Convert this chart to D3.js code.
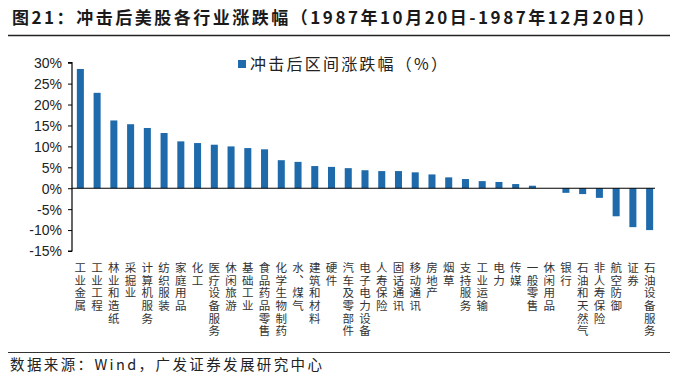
<!DOCTYPE html>
<html><head><meta charset="utf-8">
<script src="https://cdn.jsdelivr.net/npm/d3@7/dist/d3.min.js"></script>
<style>html,body{margin:0;padding:0;background:#fff;}svg{display:block;}
.vlab{writing-mode:vertical-rl;text-orientation:upright;}</style>
</head><body>
<svg id="c" width="700" height="382"></svg>
<script>
const categories = ["工业金属","工业工程","林业和造纸","采掘业","计算机服务","纺织服装","家庭用品","化工","医疗设备服务","休闲旅游","基础工业","食品药品零售","化学生物制药","水、煤气","建筑和材料","硬件","汽车及零部件","电子电力设备","人寿保险","固话通讯","移动通讯","房地产","烟草","支持服务","工业运输","电力","传媒","一般零售","休闲用品","银行","石油和天然气","非人寿保险","航空防御","证券","石油设备服务"];
const values = [28.5,22.8,16.2,15.3,14.4,13.2,11.2,10.8,10.4,10.0,9.6,9.3,6.7,6.3,5.3,5.1,4.8,4.3,4.1,4.1,3.8,3.3,2.6,2.2,1.7,1.5,1.0,0.6,0.0,-1.1,-1.4,-2.3,-6.7,-9.3,-10.0];
const yTicks = [30,25,20,15,10,5,0,-5,-10,-15];
const seriesName = "冲击后区间涨跌幅（%）";
const titleText = "图21：冲击后美股各行业涨跌幅（1987年10月20日-1987年12月20日）";
const sourceText = "数据来源：Wind，广发证券发展研究中心";

const svg = d3.select("#c");
const cjk = "'Noto Sans CJK SC','Noto Sans',sans-serif";
const barColor = "#1f6aab";

// title
svg.append("text").attr("x",12).attr("y",24)
  .attr("font-family",cjk).attr("font-weight","bold").attr("font-size",17)
  .attr("fill","#1a1a1a").attr("textLength",642).attr("lengthAdjust","spacing")
  .text(titleText);
svg.append("line").attr("x1",8).attr("x2",670).attr("y1",35.5).attr("y2",35.5)
  .attr("stroke","#222").attr("stroke-width",1.5);

const x = d3.scaleBand().domain(categories).range([72,658]).paddingInner(0.58).paddingOuter(0.29);
const y = d3.scaleLinear().domain([-15,30]).range([251,62.7]);

// bars
svg.append("g").selectAll("rect").data(values).join("rect")
  .attr("x",(d,i)=>x(categories[i]))
  .attr("width",x.bandwidth())
  .attr("y",d=>y(Math.max(0,d)))
  .attr("height",d=>Math.abs(y(d)-y(0)))
  .attr("fill",barColor);

// y axis
const yAxis = d3.axisLeft(y).tickValues(yTicks).tickSize(4).tickFormat(d=>d+"%");
const ya = svg.append("g").attr("transform","translate(72,0)").call(yAxis);
ya.select(".domain").attr("stroke","#000").attr("stroke-width",1.2).attr("d","M-4,62.7H0V251H-4");
ya.selectAll(".tick line").attr("stroke","#000").attr("stroke-width",1);
ya.selectAll(".tick text").attr("font-family","'Liberation Sans',Arial,sans-serif")
  .attr("font-size",14).attr("fill","#222").attr("x",-10).attr("dy","0.35em");

// zero line
svg.append("line").attr("x1",72).attr("x2",655).attr("y1",y(0)).attr("y2",y(0))
  .attr("stroke","#000").attr("stroke-width",1.2);

// x labels: one upright character per element, stacked vertically
const xl = svg.append("g");
categories.forEach(c=>{
  const cx = x(c)+x.bandwidth()/2;
  Array.from(c).forEach((ch,j)=>{
    xl.append("text").attr("class","vlab")
      .attr("x",cx).attr("y",262+j*12.6)
      .attr("font-family",cjk).attr("font-size",11.5).attr("fill","#333")
      .text(ch);
  });
});

// legend
svg.append("rect").attr("x",238).attr("y",60).attr("width",8).attr("height",8).attr("fill",barColor);
svg.append("text").attr("x",250).attr("y",70).attr("font-family",cjk).attr("font-size",16)
  .attr("fill","#222").attr("textLength",197).attr("lengthAdjust","spacing").text(seriesName);

// source
svg.append("line").attr("x1",8).attr("x2",670).attr("y1",352.5).attr("y2",352.5)
  .attr("stroke","#333").attr("stroke-width",1.2);
svg.append("text").attr("x",10).attr("y",370).attr("font-family",cjk).attr("font-size",14.5)
  .attr("fill","#222").attr("textLength",312).attr("lengthAdjust","spacing").text(sourceText);
</script>
</body></html>
